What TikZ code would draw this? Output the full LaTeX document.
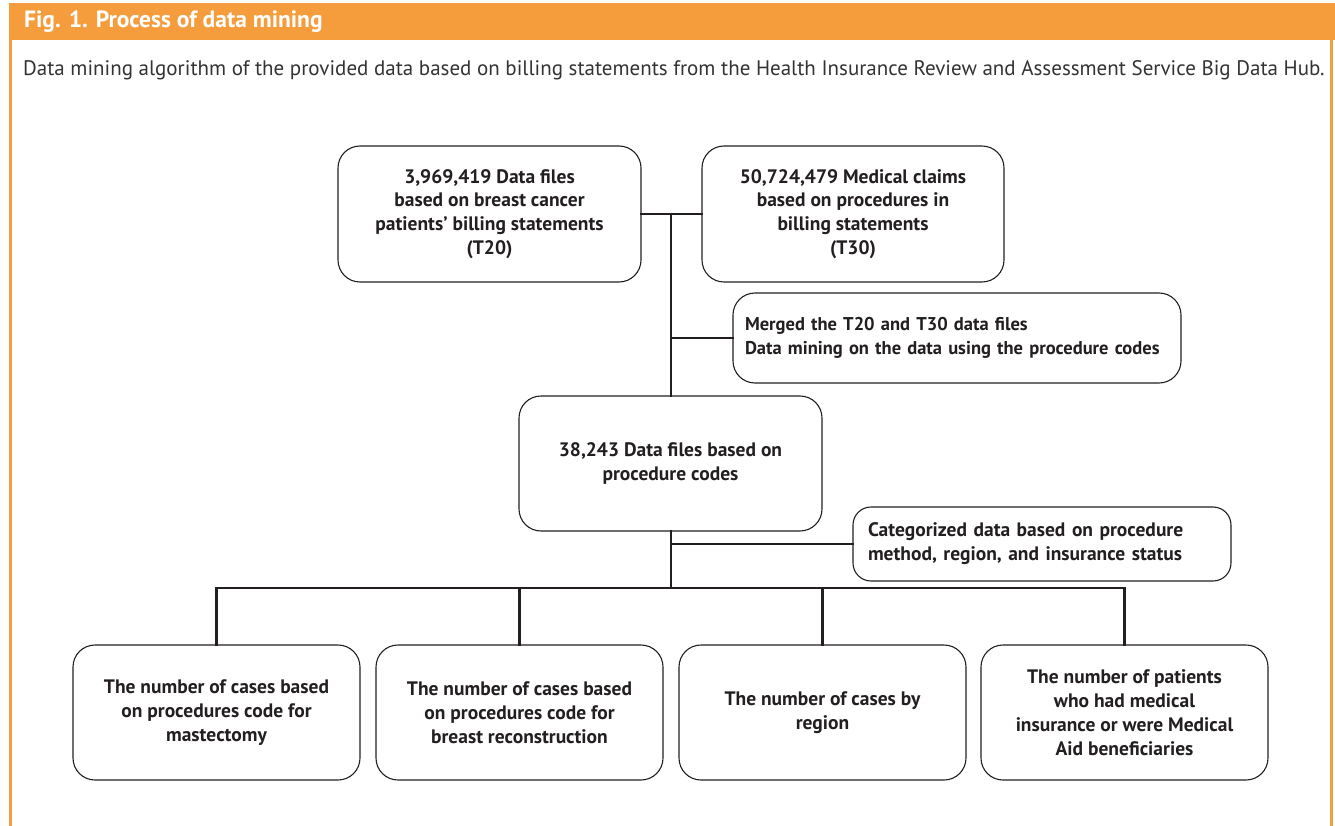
\documentclass[tikz,border=0pt]{standalone}
\usepackage{fontspec}
\setmainfont{PT Sans}
\definecolor{frameorange}{HTML}{F59D3D}
\definecolor{inkdark}{HTML}{231F20}
\definecolor{subgray}{HTML}{333333}
\tikzset{
  boxnode/.style={draw=inkdark, line width=1.1pt, rounded corners=22pt, fill=white,
    align=center, inner sep=4pt, text=inkdark,
    font=\fontsize{19.5}{23.8}\selectfont\bfseries},
  wire/.style={draw=inkdark, line width=2.4pt, line cap=rect}
}
\begin{document}
\begin{tikzpicture}[x=1pt,y=-1pt]
\useasboundingbox (0,0) rectangle (1335,826);
% frame
\fill[frameorange] (9,3) rectangle (1335,40);
\fill[frameorange] (9,40) rectangle (12,826);
\fill[frameorange] (1330,40) rectangle (1333,826);
\node[anchor=west, text=white, font=\fontsize{23.5}{26}\selectfont\bfseries, inner sep=0pt] (title) at (24,21.5) {Fig. 1. Process of data mining};
\node[anchor=west, text=subgray, font=\fontsize{21}{24}\selectfont, inner sep=0pt] (subtitle) at (23,70) {Data mining algorithm of the provided data based on billing statements from the Health Insurance Review and Assessment Service Big Data Hub.};
% boxes
\node[boxnode, minimum width=303pt, minimum height=136pt] (t20) at (489.5,214) {3,969,419 Data files\\based on breast cancer\\patients' billing statements\\(T20)};
\node[boxnode, minimum width=302pt, minimum height=136pt] (t30) at (853,214) {50,724,479 Medical claims\\based on procedures in\\billing statements\\(T30)};
\node[boxnode, minimum width=448pt, minimum height=90pt, align=left, text width=424pt, font=\fontsize{18.5}{23.8}\selectfont\bfseries] (merge) at (957,338) {\mbox{Merged the T20 and T30 data files}\\\mbox{Data mining on the data using the procedure codes}};
\node[boxnode, minimum width=303pt, minimum height=135pt] (codes) at (670.5,463.5) {38,243 Data files based on\\procedure codes};
\node[boxnode, minimum width=378pt, minimum height=74pt, rounded corners=18pt, align=left, text width=348pt] (cat) at (1042,544) {Categorized data based on procedure\\method, region, and insurance status};
\node[boxnode, minimum width=287pt, minimum height=135pt] (mast) at (216.5,712.5) {The number of cases based\\on procedures code for\\mastectomy};
\node[boxnode, minimum width=287pt, minimum height=135pt] (recon) at (519.5,712.5) {The number of cases based\\on procedures code for\\breast reconstruction};
\node[boxnode, minimum width=287pt, minimum height=135pt] (region) at (822.5,712.5) {The number of cases by\\region};
\node[boxnode, minimum width=287pt, minimum height=135pt] (insur) at (1124.5,712.5) {The number of patients\\who had medical\\insurance or were Medical\\Aid beneficiaries};
% connectors
\coordinate (join) at (671,214);
\coordinate (bus) at (671,588);
\draw[wire] (t20.east) -- (t30.west);
\draw[wire] (join) -- (codes.north -| join);
\draw[wire] (merge.west) -- (merge.west -| join);
\draw[wire] (codes.south -| join) -- (bus);
\draw[wire] (cat.west) -- (cat.west -| join);
\draw[wire] (mast.north |- bus) -- (insur.north |- bus);
\draw[wire] (mast.north) -- (mast.north |- bus);
\draw[wire] (recon.north) -- (recon.north |- bus);
\draw[wire] (region.north) -- (region.north |- bus);
\draw[wire] (insur.north) -- (insur.north |- bus);
\end{tikzpicture}
\end{document}
